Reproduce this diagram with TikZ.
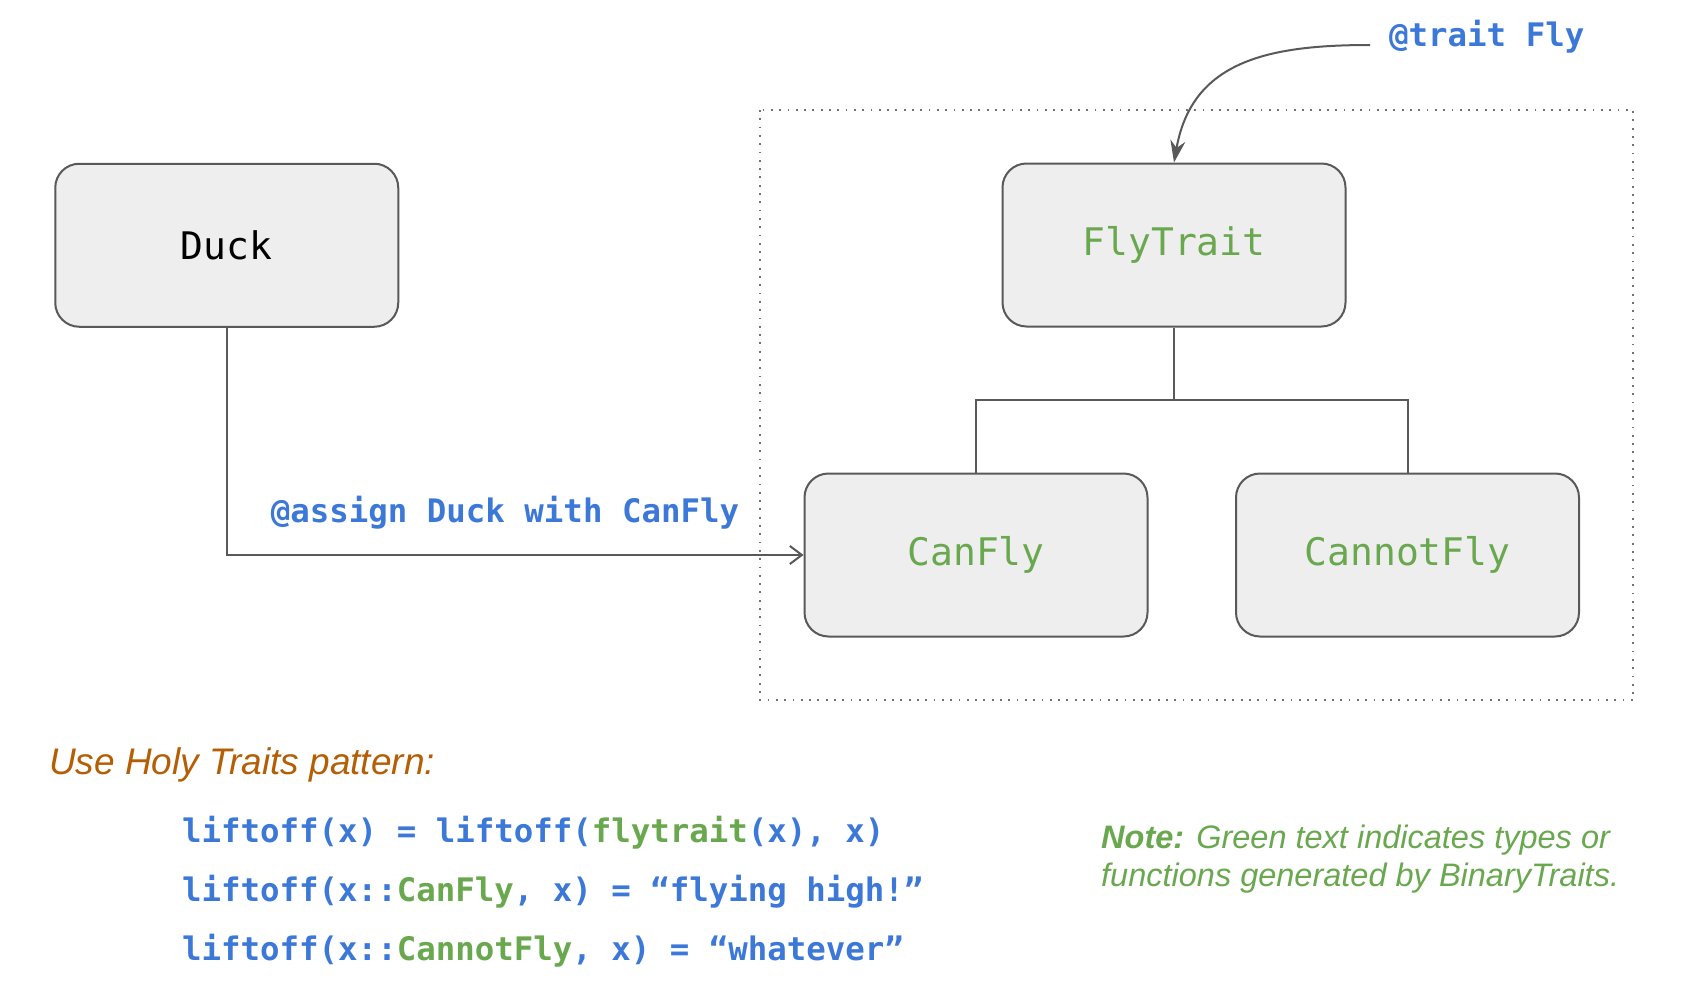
\documentclass[tikz,border=0pt]{standalone}
\usepackage{fontspec}
\setmainfont{Liberation Sans}
\setmonofont{DejaVu Sans Mono}
\usetikzlibrary{arrows.meta,calc}
\definecolor{cblue}{HTML}{3C78D8}
\definecolor{cgreen}{HTML}{6AA84F}
\definecolor{corange}{HTML}{B45F06}
\definecolor{cbox}{HTML}{EEEEEE}
\definecolor{cline}{HTML}{595959}
\begin{document}
\begin{tikzpicture}[x=1pt,y=-1pt,
  box/.style={draw=cline, fill=cbox, line width=2pt, rounded corners=24pt,
    minimum width=343pt, minimum height=163pt, inner sep=0pt,
    font=\fontsize{38}{38}\selectfont\ttfamily},
  conn/.style={draw=cline, line width=2pt},
  code/.style={anchor=west, inner sep=0pt, text=cblue,
    font=\fontsize{32.4}{33}\selectfont\ttfamily\bfseries},
]
\useasboundingbox (0,0) rectangle (1700,998);
\fill[white] (0,0) rectangle (1700,998);

% dotted frame
\draw[cline!85, line width=1.8pt, dash pattern=on 1.8pt off 6.5pt] (760,110) rectangle (1633,700);

% boxes
\node[box] (duck) at (226.75,245.25) {Duck};
\node[box, text=cgreen] (fly) at (1174,245) {FlyTrait};
\node[box, text=cgreen] (can) at (976,555) {CanFly};
\node[box, text=cgreen] (cannot) at (1407.5,555) {CannotFly};

% tree connectors
\coordinate (bar) at (1174,400);
\draw[conn] (fly.south) -- (bar) -| (can.north);
\draw[conn] (bar) -| (cannot.north);

% Duck -> CanFly
\draw[conn, -{Straight Barb[length=12pt,width=18pt]}] (duck.south) |- (can.west);
\node[code, anchor=center] (assignlbl) at (505,513) {@assign Duck with CanFly};

% @trait Fly
\node[code] (traitlbl) at (1389,37) {@trait Fly};
\coordinate (ts) at (1370,45);
\draw[conn, -{Stealth[length=22pt,width=15pt]}] (ts) to[out=180,in=80,looseness=1.15] (fly.north);

% heading
\node[anchor=west, inner sep=0pt, text=corange, font=\fontsize{37}{37}\selectfont\itshape] (head) at (49,765) {Use Holy Traits pattern:};

% code lines
\node[code] (l1) at (182,833) {liftoff(x) = liftoff(\textcolor{cgreen}{flytrait}(x), x)};
\node[code] (l2) at (182,892) {liftoff(x::\textcolor{cgreen}{CanFly}, x) = “flying high!”};
\node[code] (l3) at (182,951) {liftoff(x::\textcolor{cgreen}{CannotFly}, x) = “whatever”};

% note
\node[anchor=west, inner sep=0pt, align=left, text=cgreen, font=\fontsize{32.5}{38}\selectfont\itshape] (note) at (1101,859) {\textbf{Note:} Green text indicates types or\\functions generated by BinaryTraits.};
\end{tikzpicture}
\end{document}
